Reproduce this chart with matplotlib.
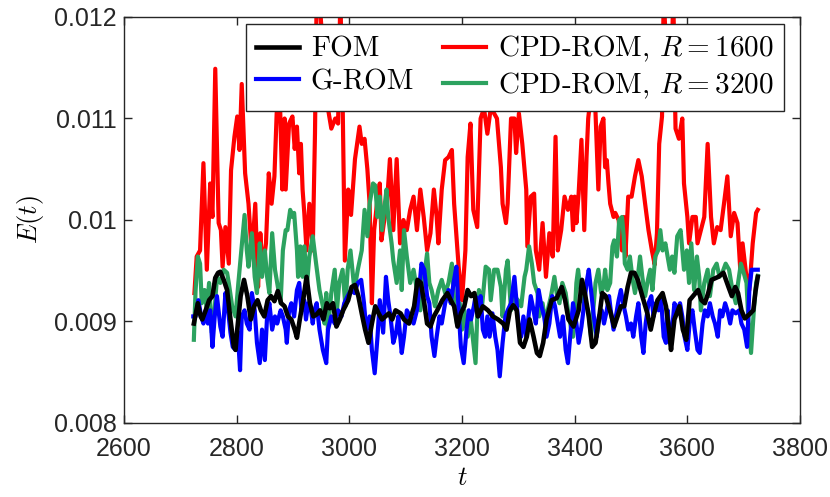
import matplotlib
matplotlib.use("Agg")
import matplotlib.pyplot as plt
from matplotlib import font_manager

# energy values are in units of 1e-3
fom_t = [2724, 2731, 2736, 2739, 2745, 2751, 2757, 2762, 2767, 2771, 2777, 2783, 2789, 2795, 2798,
         2801, 2807, 2813, 2819, 2825, 2831, 2837, 2843, 2849, 2855, 2861, 2867, 2873, 2879, 2885,
         2891, 2897, 2903, 2907, 2912, 2918, 2924, 2930, 2936, 2942, 2948, 2954, 2960, 2965, 2971,
         2977, 2983, 2989, 2998, 3004, 3010, 3016, 3022, 3028, 3034, 3040, 3046, 3052, 3058, 3064,
         3070, 3076, 3082, 3091, 3097, 3106, 3115, 3121, 3127, 3133, 3138, 3144, 3150, 3156, 3165,
         3174, 3180, 3186, 3192, 3198, 3204, 3210, 3216, 3222, 3228, 3237, 3246, 3255, 3264, 3273,
         3279, 3285, 3291, 3297, 3303, 3309, 3315, 3320, 3327, 3333, 3338, 3344, 3350, 3359, 3368,
         3377, 3383, 3389, 3398, 3407, 3413, 3419, 3425, 3431, 3437, 3443, 3449, 3455, 3464, 3470,
         3476, 3482, 3488, 3494, 3500, 3506, 3512, 3520, 3529, 3535, 3541, 3547, 3556, 3562, 3568,
         3571, 3577, 3586, 3592, 3598, 3604, 3610, 3619, 3625, 3631, 3637, 3643, 3655, 3664, 3673,
         3679, 3685, 3690, 3696, 3702, 3710, 3717, 3721, 3725]
fom_e = [8.98, 9.18, 9.05, 9.02, 9.11, 9.21, 9.25, 9.43, 9.48, 9.49, 9.41, 9.31, 9.02, 8.75, 8.72,
         8.92, 9.25, 9.41, 9.25, 9.02, 9.15, 9.21, 9.11, 9.05, 9.21, 9.25, 9.20, 9.30, 9.18, 9.15,
         9.05, 9.02, 8.92, 8.84, 9.02, 9.21, 9.44, 9.18, 9.05, 9.07, 9.11, 9.02, 9.18, 9.13, 9.18,
         8.95, 9.02, 9.11, 9.21, 9.34, 9.36, 9.25, 9.08, 8.92, 8.79, 8.98, 9.15, 9.08, 9.02, 9.05,
         9.08, 9.02, 9.11, 9.08, 9.02, 8.98, 9.15, 9.41, 9.38, 9.18, 8.98, 8.95, 9.05, 9.11, 9.21,
         9.28, 9.21, 9.15, 8.95, 9.08, 9.15, 9.31, 9.25, 9.28, 9.05, 9.15, 9.11, 9.05, 9.02, 8.98,
         8.92, 9.11, 9.16, 9.11, 8.79, 8.75, 8.85, 9.02, 8.85, 8.69, 8.66, 8.79, 9.02, 9.21, 9.23,
         9.34, 9.21, 9.02, 8.95, 9.11, 9.41, 9.25, 9.05, 8.75, 8.79, 9.02, 9.28, 9.25, 9.08, 8.95,
         9.05, 9.15, 9.15, 9.34, 9.48, 9.48, 9.41, 9.25, 9.08, 8.92, 9.08, 9.21, 9.28, 9.15, 8.89,
         8.72, 9.02, 9.15, 8.92, 8.82, 9.21, 9.25, 9.31, 9.21, 9.18, 9.28, 9.41, 9.44, 9.48, 9.34,
         9.25, 9.34, 9.28, 9.11, 9.03, 9.07, 9.11, 9.30, 9.44]

grom_t = [2723, 2727, 2732, 2737, 2741, 2745, 2749, 2753, 2757, 2761, 2765, 2771, 2775, 2780, 2784,
          2789, 2793, 2798, 2802, 2806, 2809, 2814, 2818, 2823, 2827, 2832, 2836, 2841, 2845, 2850,
          2854, 2858, 2863, 2868, 2872, 2878, 2882, 2887, 2889, 2893, 2897, 2902, 2907, 2911, 2915,
          2920, 2923, 2927, 2932, 2935, 2938, 2942, 2947, 2953, 2959, 2962, 2968, 2974, 2980, 2986,
          2991, 2997, 3003, 3009, 3015, 3021, 3026, 3030, 3036, 3040, 3045, 3050, 3054, 3060, 3065,
          3069, 3073, 3078, 3083, 3087, 3093, 3097, 3102, 3108, 3114, 3120, 3124, 3128, 3133, 3138,
          3142, 3146, 3151, 3155, 3160, 3164, 3170, 3176, 3180, 3185, 3190, 3194, 3198, 3203, 3208,
          3212, 3216, 3221, 3224, 3229, 3233, 3237, 3241, 3245, 3249, 3254, 3259, 3263, 3267, 3272,
          3277, 3281, 3287, 3293, 3297, 3300, 3305, 3309, 3314, 3318, 3322, 3327, 3331, 3336, 3341,
          3346, 3350, 3355, 3360, 3365, 3370, 3374, 3379, 3384, 3388, 3392, 3397, 3403, 3407, 3412,
          3417, 3421, 3425, 3430, 3434, 3439, 3443, 3448, 3452, 3457, 3461, 3464, 3469, 3473, 3478,
          3482, 3486, 3491, 3495, 3500, 3504, 3509, 3513, 3518, 3522, 3526, 3531, 3536, 3540, 3544,
          3549, 3553, 3558, 3562, 3565, 3569, 3573, 3577, 3582, 3587, 3591, 3595, 3600, 3605, 3609,
          3613, 3618, 3622, 3627, 3631, 3636, 3640, 3645, 3649, 3654, 3658, 3662, 3667, 3671, 3676,
          3680, 3686, 3692, 3696, 3701, 3706, 3710, 3714, 3719, 3725]
grom_e = [9.05, 9.05, 9.21, 9.05, 8.98, 9.11, 8.98, 9.11, 8.75, 9.05, 9.25, 8.95, 8.85, 9.28, 9.15,
          8.89, 8.75, 8.72, 8.89, 8.52, 9.05, 9.11, 8.98, 8.92, 9.28, 9.11, 8.79, 8.59, 8.92, 8.62,
          9.05, 9.18, 8.92, 9.05, 8.98, 9.11, 9.05, 8.92, 8.79, 9.11, 9.18, 9.05, 9.31, 9.38, 9.11,
          9.21, 9.02, 9.18, 9.11, 8.98, 9.11, 9.18, 8.92, 8.72, 8.59, 8.92, 9.05, 8.98, 9.11, 9.05,
          9.18, 9.25, 9.31, 9.28, 9.38, 9.41, 9.18, 8.92, 9.05, 8.72, 8.49, 8.85, 9.21, 8.89, 9.44,
          9.21, 9.05, 8.79, 8.89, 9.05, 8.69, 8.85, 9.11, 9.05, 8.98, 9.11, 9.31, 9.57, 9.51, 9.25,
          9.18, 8.85, 8.66, 8.85, 9.05, 8.98, 9.18, 9.31, 9.18, 9.38, 9.54, 9.11, 8.75, 8.59, 8.92,
          9.11, 9.02, 9.15, 9.25, 9.05, 9.25, 8.92, 8.85, 9.05, 8.85, 9.08, 8.85, 8.72, 8.46, 8.79,
          9.05, 9.11, 9.18, 9.44, 9.18, 8.98, 8.85, 9.05, 8.85, 9.05, 9.25, 9.11, 8.98, 9.31, 9.15,
          9.05, 8.85, 8.98, 9.25, 9.15, 8.98, 8.85, 9.05, 8.72, 8.59, 8.85, 9.18, 8.98, 8.79, 8.95,
          9.18, 9.38, 9.51, 9.25, 9.05, 8.85, 9.05, 9.11, 8.98, 9.11, 9.25, 9.11, 8.92, 9.05, 9.21,
          9.31, 9.18, 9.05, 8.92, 8.98, 8.85, 9.05, 9.18, 8.85, 8.69, 8.98, 9.18, 9.25, 9.05, 9.18,
          9.11, 9.25, 8.85, 8.79, 9.11, 8.79, 8.92, 9.18, 9.11, 9.18, 9.05, 8.85, 8.72, 9.05, 9.11,
          8.92, 8.72, 8.69, 8.98, 9.11, 9.05, 9.18, 9.05, 8.98, 8.85, 9.11, 9.05, 9.18, 9.11, 8.98,
          9.11, 9.08, 9.11, 8.98, 8.92, 8.75, 9.31, 9.51, 9.51, 9.51]

cpd1600_t = [2725, 2729, 2735, 2741, 2747, 2753, 2757, 2762, 2768, 2772, 2775, 2780, 2786, 2790, 2796,
             2801, 2805, 2809, 2815, 2821, 2827, 2833, 2838, 2842, 2846, 2852, 2857, 2862, 2867, 2871,
             2876, 2881, 2885, 2887, 2893, 2899, 2903, 2907, 2911, 2914, 2917, 2920, 2924, 2929, 2935,
             2939, 2942, 2948, 2955, 2962, 2968, 2975, 2980, 2984, 2988, 2992, 2998, 3003, 3010, 3018,
             3022, 3027, 3032, 3036, 3040, 3044, 3049, 3054, 3057, 3062, 3066, 3072, 3078, 3084, 3090,
             3096, 3102, 3108, 3114, 3120, 3126, 3132, 3138, 3144, 3150, 3155, 3158, 3164, 3170, 3176,
             3182, 3186, 3194, 3200, 3206, 3210, 3215, 3220, 3227, 3233, 3239, 3245, 3251, 3257, 3262,
             3269, 3272, 3278, 3281, 3287, 3293, 3296, 3301, 3307, 3314, 3316, 3322, 3328, 3331, 3337,
             3343, 3349, 3355, 3361, 3366, 3370, 3376, 3382, 3388, 3394, 3397, 3400, 3403, 3407, 3412,
             3417, 3421, 3424, 3430, 3436, 3442, 3446, 3451, 3454, 3457, 3460, 3463, 3469, 3472, 3478,
             3484, 3487, 3490, 3495, 3501, 3507, 3513, 3519, 3525, 3531, 3537, 3542, 3546, 3550, 3555,
             3558, 3564, 3570, 3575, 3579, 3585, 3591, 3594, 3600, 3603, 3609, 3615, 3618, 3624, 3630,
             3636, 3642, 3647, 3653, 3659, 3665, 3671, 3677, 3683, 3689, 3694, 3698, 3704, 3710, 3716,
             3722, 3725]
cpd1600_e = [9.28, 9.64, 9.70, 10.56, 9.51, 10.36, 10.03, 11.49, 9.97, 9.90, 9.54, 9.93, 9.57, 10.49, 10.82,
             11.02, 10.69, 11.34, 10.46, 10.16, 9.64, 10.16, 9.34, 9.87, 9.51, 9.77, 10.46, 10.16, 10.43, 11.05,
             11.34, 10.30, 11.00, 10.30, 10.95, 11.02, 10.70, 10.92, 10.46, 10.75, 10.30, 10.07, 9.70, 10.16, 9.70,
             10.85, 12.20, 12.10, 11.50, 11.10, 10.90, 11.00, 10.95, 12.20, 11.20, 9.60, 10.30, 10.05, 10.60, 10.92,
             10.75, 10.80, 10.50, 10.16, 9.18, 9.90, 10.16, 10.36, 9.80, 10.00, 10.10, 10.60, 9.90, 10.60, 9.77,
             10.00, 9.90, 10.10, 10.23, 9.90, 10.30, 10.03, 9.70, 9.87, 10.30, 10.03, 9.77, 10.30, 10.59, 10.62,
             10.69, 10.16, 9.54, 9.21, 9.70, 10.62, 10.95, 10.10, 9.93, 11.00, 11.10, 10.85, 11.10, 11.05, 11.00,
             10.52, 10.16, 9.97, 10.16, 11.00, 11.00, 10.66, 11.05, 10.75, 10.30, 9.74, 10.23, 10.26, 9.70, 9.51,
             9.97, 9.44, 9.87, 9.64, 10.82, 9.70, 9.90, 10.23, 10.10, 10.23, 9.90, 10.23, 9.97, 10.26, 10.79,
             9.90, 10.62, 11.00, 11.30, 11.20, 10.30, 10.92, 11.00, 10.52, 10.59, 10.36, 10.16, 10.03, 10.07, 10.00,
             9.70, 10.03, 9.64, 10.23, 10.23, 10.43, 10.59, 10.43, 10.16, 9.90, 9.70, 9.56, 9.87, 10.75, 11.02,
             12.20, 11.50, 11.10, 12.20, 10.90, 10.80, 11.00, 10.36, 10.03, 9.77, 10.03, 10.03, 9.77, 9.90, 10.03,
             10.75, 10.03, 9.77, 9.93, 9.90, 10.16, 10.43, 9.84, 10.07, 9.97, 9.50, 9.77, 9.48, 9.31, 9.77,
             10.07, 10.10]

cpd3200_t = [2724, 2727, 2731, 2735, 2738, 2743, 2747, 2751, 2756, 2760, 2765, 2771, 2777, 2783, 2786,
             2792, 2798, 2803, 2809, 2814, 2818, 2821, 2827, 2832, 2836, 2841, 2845, 2850, 2854, 2858,
             2863, 2868, 2872, 2878, 2882, 2887, 2890, 2895, 2899, 2902, 2907, 2909, 2913, 2917, 2920,
             2925, 2929, 2935, 2941, 2947, 2953, 2956, 2959, 2962, 2968, 2974, 2978, 2982, 2988, 2993,
             2997, 3002, 3009, 3015, 3022, 3027, 3032, 3036, 3042, 3046, 3050, 3054, 3058, 3063, 3066,
             3069, 3075, 3078, 3084, 3090, 3093, 3097, 3102, 3108, 3114, 3120, 3126, 3132, 3138, 3142,
             3146, 3152, 3158, 3164, 3170, 3176, 3182, 3186, 3191, 3196, 3200, 3204, 3210, 3215, 3220,
             3224, 3227, 3230, 3236, 3242, 3248, 3251, 3257, 3263, 3269, 3272, 3278, 3281, 3287, 3293,
             3299, 3305, 3311, 3314, 3319, 3324, 3328, 3334, 3337, 3343, 3348, 3352, 3358, 3364, 3368,
             3373, 3378, 3384, 3388, 3394, 3397, 3400, 3403, 3406, 3409, 3412, 3418, 3424, 3429, 3433,
             3437, 3442, 3447, 3451, 3454, 3458, 3463, 3467, 3470, 3475, 3479, 3484, 3487, 3489, 3494,
             3498, 3503, 3507, 3512, 3516, 3520, 3525, 3530, 3534, 3538, 3543, 3548, 3552, 3556, 3561,
             3564, 3569, 3573, 3577, 3582, 3588, 3591, 3594, 3599, 3603, 3607, 3612, 3617, 3621, 3624,
             3630, 3636, 3640, 3646, 3652, 3657, 3662, 3668, 3674, 3680, 3686, 3690, 3695, 3700, 3705,
             3708, 3713, 3718, 3722, 3725]
cpd3200_e = [8.82, 9.30, 9.64, 9.57, 9.18, 9.31, 9.11, 9.38, 8.89, 9.05, 9.44, 9.38, 9.51, 9.48, 9.38,
             9.15, 9.05, 9.38, 9.74, 10.05, 9.70, 9.54, 9.87, 9.44, 9.28, 9.77, 9.44, 9.70, 9.44, 9.28,
             9.87, 9.51, 9.38, 9.18, 9.70, 9.90, 9.90, 10.10, 10.03, 10.07, 9.70, 9.44, 9.74, 9.44, 9.74,
             9.38, 9.64, 9.84, 9.57, 9.31, 9.15, 8.98, 9.28, 8.92, 9.28, 9.51, 9.11, 9.38, 9.51, 9.15,
             9.51, 9.70, 9.31, 9.51, 9.70, 10.10, 9.84, 10.16, 10.36, 10.34, 10.03, 10.23, 9.90, 10.16, 10.30,
             10.03, 9.77, 9.60, 9.38, 9.70, 9.31, 9.90, 9.64, 9.38, 9.51, 9.31, 9.11, 9.41, 9.67, 9.38,
             9.31, 9.15, 9.31, 9.41, 9.28, 9.38, 9.57, 9.21, 8.98, 9.18, 8.92, 9.11, 8.85, 9.05, 8.79,
             8.59, 9.05, 9.31, 9.18, 9.54, 9.51, 9.21, 9.51, 9.51, 9.34, 9.05, 9.51, 9.60, 9.11, 9.25,
             9.21, 9.15, 9.44, 9.51, 9.74, 9.57, 9.38, 9.28, 9.05, 9.18, 8.98, 9.11, 9.25, 9.44, 9.28,
             9.18, 9.38, 9.28, 9.11, 8.92, 8.85, 9.05, 9.38, 9.51, 9.38, 9.21, 9.18, 9.11, 8.85, 9.11,
             9.38, 9.51, 9.28, 9.34, 9.51, 9.31, 9.38, 9.74, 9.80, 9.64, 10.00, 10.03, 9.84, 9.57, 9.51,
             9.64, 9.41, 9.28, 9.44, 9.64, 9.44, 9.25, 9.41, 9.51, 9.31, 9.64, 9.70, 9.90, 9.70, 9.77,
             9.67, 9.51, 9.64, 9.48, 9.84, 9.90, 9.70, 9.51, 9.70, 9.38, 9.77, 9.31, 9.64, 9.44, 9.11,
             9.38, 9.51, 9.25, 9.51, 9.57, 9.44, 9.48, 9.57, 9.51, 9.31, 9.18, 9.38, 9.57, 9.48, 9.38,
             9.05, 8.69, 9.11, 9.38, 9.45]

x_ticks = [2600, 2800, 3000, 3200, 3400, 3600, 3800]
y_ticks = [0.008, 0.009, 0.010, 0.011, 0.012]
y_tick_labels = ['0.008', '0.009', '0.01', '0.011', '0.012']

GREEN = '#2ca25f'


def milli(values):
    return [v * 1e-3 for v in values]


def plot_energy():
    plt.rcParams['mathtext.fontset'] = 'cm'
    names = {f.name for f in font_manager.fontManager.ttflist}
    tick_family = 'Liberation Sans Narrow' if 'Liberation Sans Narrow' in names else 'Liberation Sans'

    fig = plt.figure(figsize=(8.3, 4.97), dpi=100)
    ax = fig.add_axes([0.1494, 0.1489, 0.8145, 0.8169])

    lw = 3.0
    l_red, = ax.plot(cpd1600_t, milli(cpd1600_e), color='red', lw=lw)
    l_green, = ax.plot(cpd3200_t, milli(cpd3200_e), color=GREEN, lw=lw)
    l_blue, = ax.plot(grom_t, milli(grom_e), color='blue', lw=lw)
    l_black, = ax.plot(fom_t, milli(fom_e), color='black', lw=lw + 0.3)

    ax.set_xlim(2600, 3800)
    ax.set_ylim(0.008, 0.012)
    ax.set_xticks(x_ticks)
    ax.set_xticklabels([str(x) for x in x_ticks], family=tick_family, fontsize=18)
    ax.set_yticks(y_ticks)
    ax.set_yticklabels(y_tick_labels, family=tick_family, fontsize=18)
    ax.tick_params(direction='in', length=6, width=1, top=True, right=True,
                   colors='#262626')
    ax.tick_params(axis='x', pad=10)
    ax.tick_params(axis='y', pad=5)
    for s in ax.spines.values():
        s.set_color('#262626')
        s.set_linewidth(1)

    ax.set_xlabel(r'$t$', fontsize=19, labelpad=3)
    ax.set_ylabel(r'$E(t)$', fontsize=19, labelpad=6)

    leg = ax.legend([l_black, l_blue, l_red, l_green],
                    ['FOM', 'G-ROM', 'CPD-ROM, $R = 1600$', 'CPD-ROM, $R = 3200$'],
                    ncol=2, loc='upper right', bbox_to_anchor=(0.976, 0.983),
                    borderaxespad=0, fancybox=False, framealpha=1,
                    edgecolor='#262626', handlelength=1.45, handletextpad=0.42,
                    columnspacing=1.0, labelspacing=0.2, borderpad=0.35,
                    prop=font_manager.FontProperties(family='cmr10', size=21))
    leg.get_frame().set_linewidth(1)

    fig.savefig('out.png', dpi=100)


if __name__ == "__main__":
    plot_energy()
